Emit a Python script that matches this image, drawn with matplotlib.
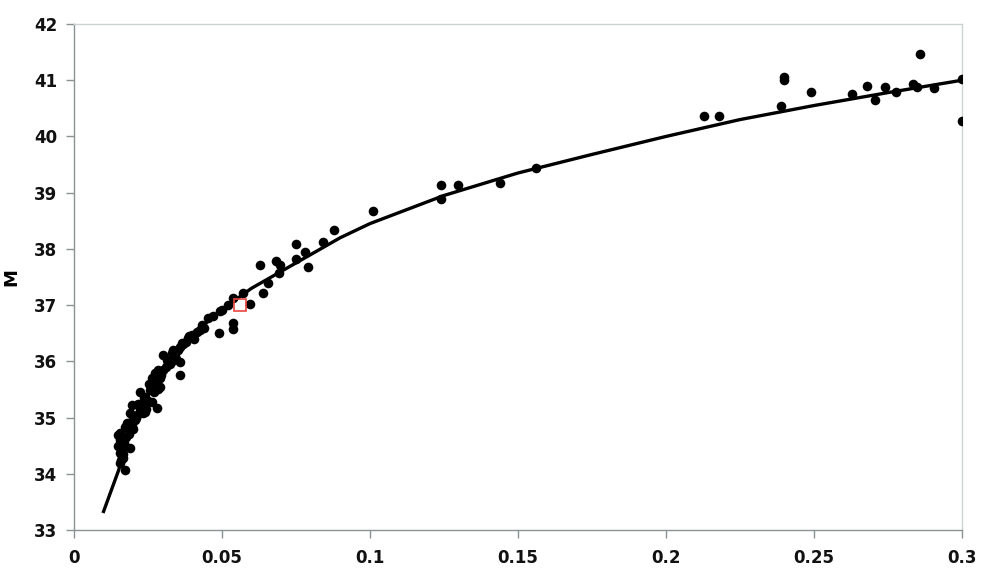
import matplotlib
matplotlib.use("Agg")
import matplotlib.pyplot as plt

# scatter observations
obs_x = [0.0155, 0.0166, 0.0172, 0.0155, 0.0162, 0.0189, 0.0155, 0.0149, 0.0172, 0.0189,
         0.0155, 0.0199, 0.0213, 0.0233, 0.0189, 0.0206, 0.0196, 0.0223, 0.0233, 0.0264,
         0.0280, 0.0247, 0.0240, 0.0223, 0.0267, 0.0280, 0.0291, 0.0264, 0.0274, 0.0284,
         0.0257, 0.0301, 0.0331, 0.0334, 0.0314, 0.0318, 0.0358, 0.0358, 0.0365, 0.0358,
         0.0385, 0.0399, 0.0416, 0.0432, 0.0453, 0.0490, 0.0500, 0.0493, 0.0537, 0.0537,
         0.0537, 0.0571, 0.0595, 0.0639, 0.0628, 0.0655, 0.0682, 0.0696, 0.0693, 0.0750,
         0.0750, 0.0780, 0.0790, 0.0841, 0.0878, 0.1010, 0.1240, 0.1240, 0.1297, 0.1439,
         0.1560, 0.2128, 0.2180, 0.2389, 0.2400, 0.2400, 0.2490, 0.2628, 0.2680, 0.2706,
         0.2740, 0.2777, 0.2834, 0.2848, 0.2858, 0.2905, 0.3000, 0.3000,
         0.0440, 0.0470, 0.0520, 0.0170, 0.0180, 0.0210, 0.0250, 0.0270, 0.0300, 0.0320,
         0.0340, 0.0370, 0.0160, 0.0175, 0.0195, 0.0225, 0.0245, 0.0290, 0.0310, 0.0345,
         0.0150, 0.0165, 0.0185, 0.0205, 0.0215, 0.0235, 0.0255, 0.0275, 0.0295, 0.0325,
         0.0350, 0.0380, 0.0405, 0.0425, 0.0160, 0.0200, 0.0240, 0.0285, 0.0330, 0.0390]
obs_y = [34.19, 34.28, 34.06, 34.37, 34.47, 34.46, 34.60, 34.69, 34.83, 34.78,
         34.72, 34.99, 35.04, 35.08, 35.08, 35.01, 35.22, 35.13, 35.26, 35.27,
         35.17, 35.27, 35.36, 35.45, 35.52, 35.61, 35.70, 35.70, 35.79, 35.84,
         35.49, 36.11, 36.15, 36.20, 36.02, 35.97, 35.99, 35.75, 36.32, 36.25,
         36.41, 36.47, 36.52, 36.64, 36.77, 36.50, 36.91, 36.89, 36.68, 36.57,
         37.12, 37.21, 37.02, 37.21, 37.71, 37.39, 37.78, 37.71, 37.57, 37.82,
         38.09, 37.94, 37.68, 38.12, 38.33, 38.67, 39.14, 38.89, 39.14, 39.17,
         39.44, 40.36, 40.36, 40.54, 41.06, 41.00, 40.79, 40.75, 40.90, 40.65,
         40.88, 40.79, 40.93, 40.88, 41.47, 40.86, 41.02, 40.27,
         36.60, 36.80, 37.00, 34.55, 34.90, 35.00, 35.30, 35.45, 35.85, 36.00,
         36.10, 36.30, 34.40, 34.65, 34.85, 35.20, 35.15, 35.55, 35.90, 36.05,
         34.50, 34.35, 34.70, 34.95, 35.25, 35.35, 35.60, 35.65, 35.75, 35.95,
         36.20, 36.35, 36.40, 36.55, 34.25, 34.80, 35.10, 35.50, 36.00, 36.45]

# fitted curve
fit_x = [0.010, 0.015, 0.020, 0.025, 0.030, 0.035, 0.040, 0.045, 0.050, 0.060, 0.070,
         0.080, 0.090, 0.100, 0.125, 0.150, 0.175, 0.200, 0.225, 0.250, 0.275, 0.300]
fit_y = [33.33, 34.05, 34.90, 35.40, 35.80, 36.15, 36.45, 36.70, 36.92, 37.30, 37.60,
         37.90, 38.20, 38.45, 38.95, 39.35, 39.68, 40.00, 40.30, 40.55, 40.78, 41.00]

# highlighted point
mark_x = [0.0561]
mark_y = [37.0]

x_ticks = [0, 0.05, 0.1, 0.15, 0.2, 0.25, 0.3]
x_labels = ["0", "0.05", "0.1", "0.15", "0.2", "0.25", "0.3"]
y_ticks = [33, 34, 35, 36, 37, 38, 39, 40, 41, 42]

fig = plt.figure(figsize=(9.81, 5.79), dpi=100)
ax = fig.add_axes([0.0754, 0.0846, 0.9051, 0.8739])

ax.scatter(obs_x, obs_y, s=48, color="black", zorder=3, linewidths=0)
ax.plot(fit_x, fit_y, color="black", lw=2.4, zorder=4)
ax.plot(mark_x, mark_y, marker="s", markersize=9, markerfacecolor="none",
        markeredgecolor="#e8453c", markeredgewidth=1.2, linestyle="none", zorder=5)

ax.set_xlim(0, 0.3)
ax.set_ylim(33, 42)
ax.set_xticks(x_ticks)
ax.set_xticklabels(x_labels)
ax.set_yticks(y_ticks)

for lab in ax.get_xticklabels() + ax.get_yticklabels():
    lab.set_fontweight("bold")
    lab.set_fontsize(12)
    lab.set_color("#111111")

ax.set_ylabel("M", fontsize=13, fontweight="bold", labelpad=10)

for side in ["left", "bottom"]:
    ax.spines[side].set_color("#8a9494")
    ax.spines[side].set_linewidth(1.0)
for side in ["top", "right"]:
    ax.spines[side].set_color("#cdd3d3")
    ax.spines[side].set_linewidth(1.0)

ax.tick_params(axis="both", direction="out", length=6, width=1, color="#8a9494")
ax.tick_params(axis="x", pad=8)
ax.tick_params(axis="y", pad=6)

fig.savefig("out.png", dpi=100)
